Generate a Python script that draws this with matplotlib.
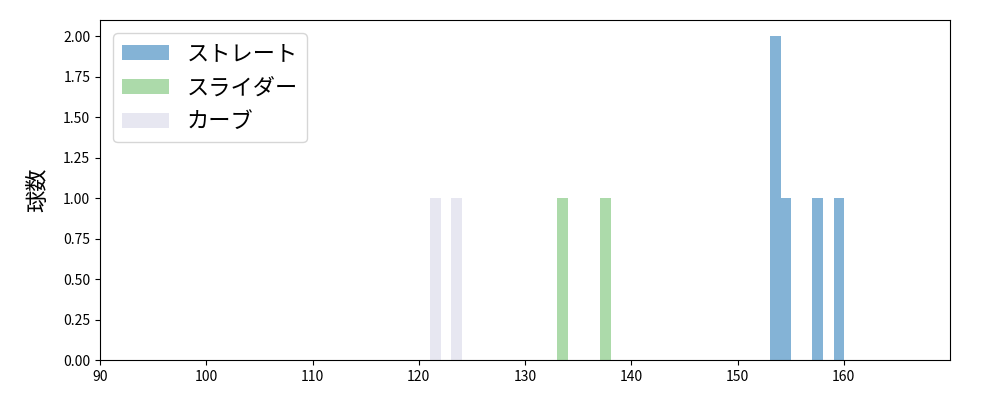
import numpy as np
import matplotlib
matplotlib.use('Agg')
import matplotlib.pyplot as plt

plt.rcParams['font.family'] = ['Noto Sans CJK JP', 'DejaVu Sans']

# pitch speeds (km/h)
straight = [153.5, 153.5, 154.5, 157.5, 159.5]
slider = [133.5, 137.5]
curve = [121.5, 123.5]
labels = ['ストレート', 'スライダー', 'カーブ']
colors = ['#84b3d6', '#acdaaa', '#e7e7f1']

bins = np.arange(90, 171, 1) + 0.05

fig, ax = plt.subplots(figsize=(10, 4), dpi=100)
fig.subplots_adjust(left=0.1, right=0.95, top=0.95, bottom=0.1)
for data, lab, c in zip([straight, slider, curve], labels, colors):
    ax.hist(data, bins=bins, color=c, label=lab)

ax.set_xlim(90, 170)
ax.set_ylim(0, 2.1)
ax.set_xticks(range(90, 170, 10))
ax.set_yticks(np.arange(0, 2.01, 0.25))
ax.yaxis.set_major_formatter(matplotlib.ticker.FormatStrFormatter('%.2f'))
ax.set_ylabel('球数', fontsize=16, labelpad=10)
ax.legend(loc='upper left', fontsize=16, handlelength=2.1, borderaxespad=0.6)

plt.savefig('out.png')
